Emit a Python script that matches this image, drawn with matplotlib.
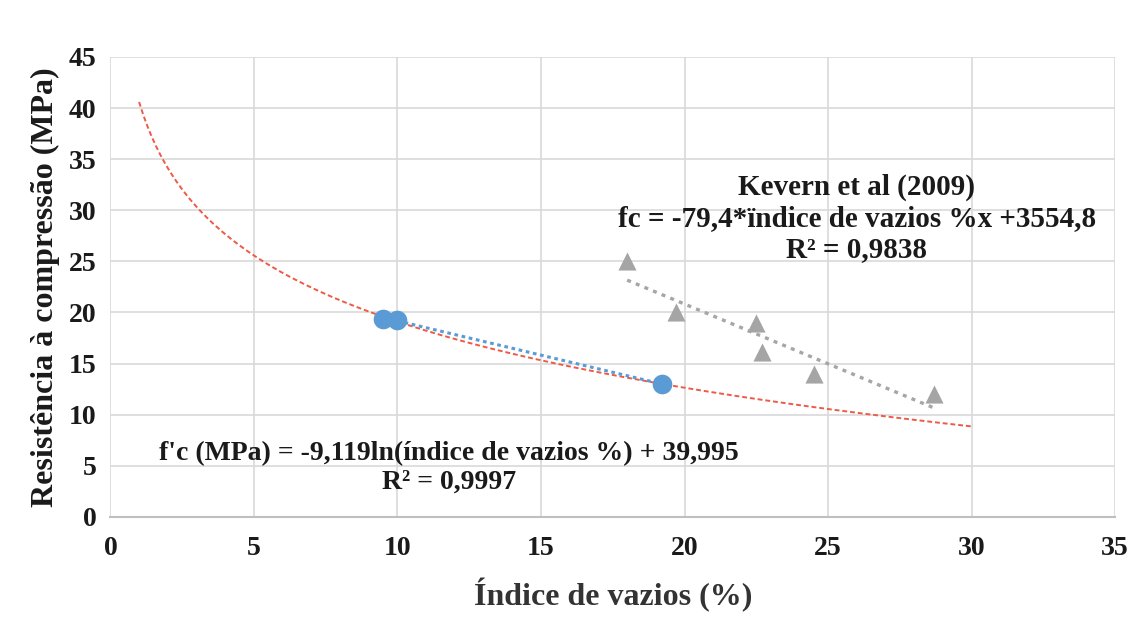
import matplotlib
matplotlib.use("Agg")
import matplotlib.pyplot as plt
import numpy as np

vazios_ensaio = [9.5, 10.0, 19.2]
fc_ensaio = [19.4, 19.3, 13.0]

vazios_kevern = [18.0, 19.7, 22.5, 22.7, 24.5, 28.7]
fc_kevern = [25.0, 20.0, 19.0, 16.1, 14.0, 12.0]

log_range = (1.0, 30.0)
xticks = [0, 5, 10, 15, 20, 25, 30, 35]
yticks = [0, 5, 10, 15, 20, 25, 30, 35, 40, 45]

plt.rcParams['font.family'] = ['Liberation Serif', 'DejaVu Serif']
plt.rcParams['font.weight'] = 'bold'

fig = plt.figure(figsize=(11.38, 6.19), dpi=100)
ax = fig.add_axes([0.097, 0.165, 0.883, 0.743])

# log trendline of own data, extended from 1 to 30
a, b = np.polyfit(np.log(vazios_ensaio), fc_ensaio, 1)
xs = np.linspace(*log_range, 200)
ax.plot(xs, a * np.log(xs) + b, color='#ee5a45', ls=(0, (2.5, 1.5)), lw=1.4, zorder=2)

# linear trendline over own data
m, c = np.polyfit(vazios_ensaio, fc_ensaio, 1)
xb = np.array([min(vazios_ensaio), max(vazios_ensaio)])
ax.plot(xb, m * xb + c, color='#5b9bd5', ls=(0, (1.2, 1.2)), lw=2.2, zorder=2)

# linear trendline Kevern
mk, ck = np.polyfit(vazios_kevern, fc_kevern, 1)
xk = np.array([min(vazios_kevern), max(vazios_kevern)])
ax.plot(xk, mk * xk + ck, color='#a6a6a6', ls=(0, (1.2, 1.6)), lw=2.4, zorder=2)

ax.scatter(vazios_ensaio, fc_ensaio, s=200, color='#5b9bd5', zorder=3, linewidths=0)
ax.scatter(vazios_kevern, fc_kevern, s=170, marker='^', color='#a5a5a5', zorder=3, linewidths=0)

ax.set_xlim(0, 35)
ax.set_ylim(0, 45)
ax.set_xticks(xticks)
ax.set_yticks(yticks)
ax.grid(True, color='#d9d9d9', lw=1.2)
ax.set_axisbelow(True)
for s in ['top', 'right', 'left']:
    ax.spines[s].set_visible(False)
ax.spines['bottom'].set_color('#bfbfbf')
ax.spines['bottom'].set_linewidth(1.5)
ax.tick_params(length=0, labelsize=20, colors='#1a1a1a', pad=10)
ax.tick_params(axis='x', pad=14)

ax.set_xlabel('Índice de vazios (%)', fontsize=23, fontweight='bold', color='#333333', labelpad=12)
ax.set_ylabel('Resistência à compressão (MPa)', fontsize=23, fontweight='bold', color='#1a1a1a', labelpad=6)

ax.text(26.0, 29.2, 'Kevern et al (2009)\nfc = -79,4*ïndice de vazios %x +3554,8\nR² = 0,9838',
        ha='center', va='center', fontsize=21, fontweight='bold', color='#1a1a1a', linespacing=1.2)
ax.text(11.8, 4.8, "f'c (MPa) = -9,119ln(índice de vazios %) + 39,995\nR² = 0,9997",
        ha='center', va='center', fontsize=20, fontweight='bold', color='#1a1a1a', linespacing=1.2)

fig.savefig('out.png', dpi=100)
